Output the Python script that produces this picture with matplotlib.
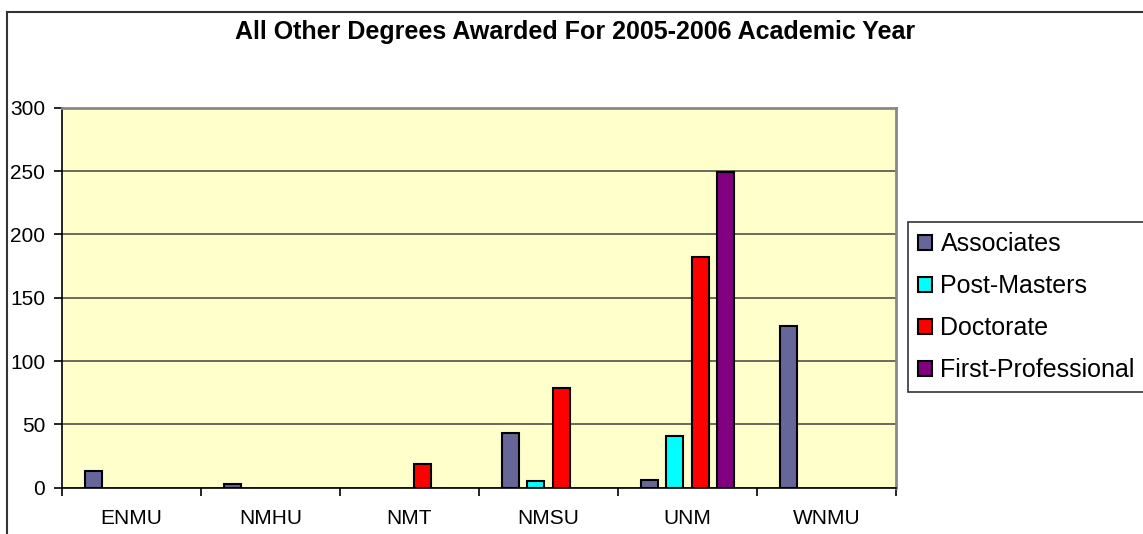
import matplotlib
matplotlib.use("Agg")
import matplotlib.pyplot as plt
from matplotlib.patches import Patch
from matplotlib.lines import Line2D
import numpy as np

plt.rcParams['font.family'] = ['Liberation Sans', 'DejaVu Sans']

categories = ["ENMU", "NMHU", "NMT", "NMSU", "UNM", "WNMU"]
series_names = ["Associates", "Post-Masters", "Doctorate", "First-Professional"]
associates = [13, 3, 0, 43, 6, 128]
post_masters = [0, 0, 0, 5, 41, 0]
doctorate = [0, 0, 19, 79, 182, 0]
first_professional = [0, 0, 0, 0, 249, 0]
colors = ["#666699", "#00FFFF", "#FF0000", "#800080"]
title = "All Other Degrees Awarded For 2005-2006 Academic Year"

W, H = 1143, 534
fig = plt.figure(figsize=(W / 100, H / 100), dpi=100)
ax = fig.add_axes([62 / W, 1 - 487.7 / H, (896 - 62) / W, (487.7 - 107.7) / H])
ax.set_facecolor("#FFFFCC")

series = [associates, post_masters, doctorate, first_professional]
slot = 0.1835
bw = 0.119
x = np.arange(len(categories)) + 0.5
for k, (vals, c) in enumerate(zip(series, colors)):
    xs = x + (k - 1.5) * slot
    for xi, v in zip(xs, vals):
        if v > 0:
            ax.bar(xi, v, width=bw, color=c, edgecolor="black", linewidth=1.5, zorder=3)

ax.set_xlim(0, 6)
ax.set_ylim(0, 300)
ax.set_yticks(range(0, 301, 50))
ax.set_xticks(range(0, 7))
ax.set_xticklabels([])
ax.set_xticks(x, minor=True)
ax.set_xticklabels(categories, minor=True)
ax.tick_params(axis="x", which="minor", length=0, pad=15, labelsize=15)
ax.tick_params(axis="x", which="major", length=6, width=1.2, direction="out", color="black")
ax.tick_params(axis="y", length=6, width=1.2, direction="out", labelsize=15, pad=6)
ax.yaxis.grid(True, color="#5f5f50", linewidth=1.3, zorder=1)
ax.set_axisbelow(True)
for side in ["top", "right"]:
    ax.spines[side].set_color("#888888")
    ax.spines[side].set_linewidth(2)
for side in ["left", "bottom"]:
    ax.spines[side].set_color("black")
    ax.spines[side].set_linewidth(1.2)

handles = [Patch(facecolor=c, edgecolor="black", linewidth=1.5) for c in colors]
leg = fig.legend(handles, series_names, loc="upper left",
                 bbox_to_anchor=(908 / W, 1 - 222 / H), borderaxespad=0,
                 fontsize=18, frameon=True, fancybox=False, edgecolor="black",
                 handlelength=0.55, handleheight=0.55, handletextpad=0.35,
                 borderpad=0.4, labelspacing=0.72)
leg.get_frame().set_linewidth(1.2)

fig.text(575 / W, 1 - 32 / H, title, ha="center", va="center",
         fontsize=18, fontweight="bold")

# chart-area border
fig.add_artist(Line2D([7 / W, 7 / W], [0, 1 - 12 / H], transform=fig.transFigure,
                      color="#333333", linewidth=1.5))
fig.add_artist(Line2D([7 / W, 1.0], [1 - 12 / H, 1 - 12 / H], transform=fig.transFigure,
                      color="#333333", linewidth=1.5))

fig.savefig("out.png", dpi=100)
